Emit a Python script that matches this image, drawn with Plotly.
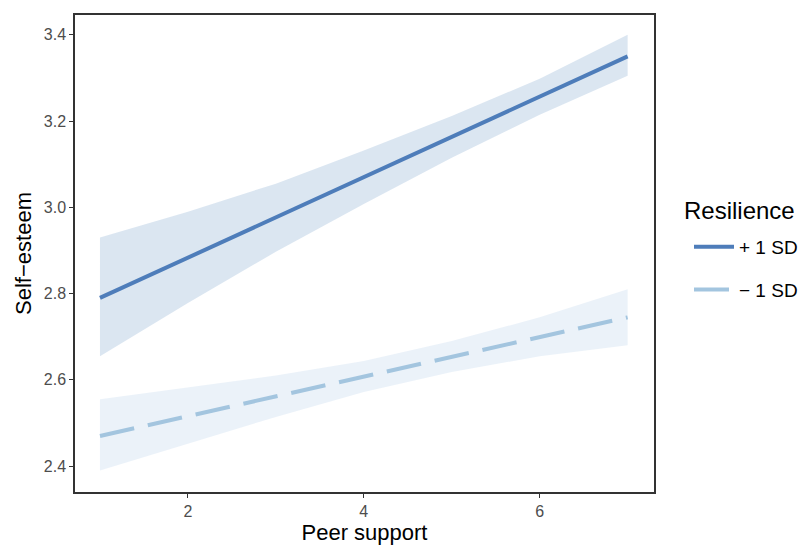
import plotly.graph_objects as go

peer_support = [1, 2, 3, 4, 5, 6, 7]

plus_fit = [2.79, 2.883, 2.977, 3.07, 3.163, 3.257, 3.35]
plus_lo = [2.655, 2.778, 2.897, 3.008, 3.115, 3.215, 3.305]
plus_hi = [2.93, 2.99, 3.055, 3.132, 3.212, 3.298, 3.40]

minus_fit = [2.47, 2.516, 2.562, 2.607, 2.653, 2.70, 2.745]
minus_lo = [2.39, 2.452, 2.514, 2.572, 2.618, 2.655, 2.68]
minus_hi = [2.555, 2.582, 2.61, 2.644, 2.69, 2.745, 2.81]

legend_title = "Resilience"
series_names = ["+ 1 SD", "\u2212 1 SD"]
x_ticks = [2, 4, 6]
y_ticks = [2.4, 2.6, 2.8, 3.0, 3.2, 3.4]

FONT = "Liberation Sans, Arial, sans-serif"

# page body has an 8px default margin; compensate
W, H = 803, 540
L, R, T, B = 67, 157, 7, 56
PW = W - L - R
PH = H - T - B


def px(x):
    return (x - 8 - L) / PW


def py(y):
    return (H - B + 8 - y) / PH


fig = go.Figure()

# confidence bands
fig.add_trace(go.Scatter(
    x=peer_support + peer_support[::-1],
    y=plus_hi + plus_lo[::-1],
    fill="toself", fillcolor="rgba(197,214,232,0.62)",
    line=dict(width=0), mode="lines", showlegend=False, hoverinfo="skip"))
fig.add_trace(go.Scatter(
    x=peer_support + peer_support[::-1],
    y=minus_hi + minus_lo[::-1],
    fill="toself", fillcolor="rgba(222,234,246,0.62)",
    line=dict(width=0), mode="lines", showlegend=False, hoverinfo="skip"))

# lines
fig.add_trace(go.Scatter(
    x=peer_support, y=plus_fit, mode="lines", name=series_names[0],
    legendgroup="a",
    line=dict(color="#4E7DBA", width=4)))
fig.add_trace(go.Scatter(
    x=peer_support, y=minus_fit, mode="lines", name=series_names[1],
    legendgroup="b",
    line=dict(color="#A3C5DF", width=4, dash="35px,14px")))

fig.add_annotation(
    text=legend_title, xref="paper", yref="paper",
    x=px(682), y=py(210), xanchor="left", yanchor="middle",
    showarrow=False, font=dict(size=24, color="black", family=FONT))

fig.update_layout(
    width=W, height=H,
    margin=dict(l=L, r=R, t=T, b=B),
    paper_bgcolor="white", plot_bgcolor="white",
    font=dict(family=FONT, color="black"),
    legend=dict(
        font=dict(size=19, color="black"),
        x=px(689), xanchor="left", y=py(228), yanchor="top",
        tracegroupgap=15, itemwidth=40, bgcolor="rgba(0,0,0,0)"),
)
fig.update_xaxes(
    range=[0.716, 7.3], tickvals=x_ticks, ticktext=[str(v) for v in x_ticks],
    showgrid=False, zeroline=False, automargin=False,
    showline=True, mirror=True, linecolor="#333333", linewidth=1.5,
    ticks="outside", ticklen=4, tickcolor="#333333", tickwidth=1,
    tickfont=dict(size=16, color="#4d4d4d"),
    title=dict(text="Peer support", font=dict(size=22, color="black"), standoff=5))
fig.update_yaxes(
    range=[2.34, 3.446], tickvals=y_ticks, ticktext=[f"{v:.1f}" for v in y_ticks],
    showgrid=False, zeroline=False, automargin=False,
    showline=True, mirror=True, linecolor="#333333", linewidth=1.5,
    ticks="outside", ticklen=4, tickcolor="#333333", tickwidth=1,
    tickfont=dict(size=16, color="#4d4d4d"),
    title=dict(text="Self\u2212esteem", font=dict(size=22, color="black"), standoff=6))

fig.write_html("out.html")
